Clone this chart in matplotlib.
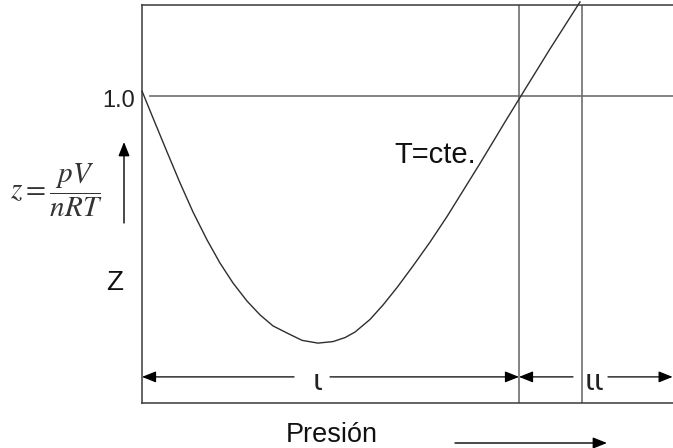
import matplotlib
matplotlib.use("Agg")
import matplotlib.pyplot as plt
from matplotlib.patches import FancyArrowPatch

plt.rcParams['font.family'] = ['Liberation Sans', 'DejaVu Sans']
plt.rcParams['mathtext.fontset'] = 'stix'

# Isotherm z = pV/nRT vs pressure (arbitrary units)
presion = [0.000, 0.117, 0.265, 0.403, 0.541, 0.690, 0.827, 0.965, 1.114, 1.252,
           1.390, 1.538, 1.698, 1.867, 2.027, 2.154, 2.260, 2.419, 2.557, 2.706,
           2.875, 3.056, 3.236, 3.406, 3.576, 3.714, 3.851, 4.021, 4.329, 4.647]
z_vals = [1.016, 0.928, 0.818, 0.717, 0.622, 0.531, 0.456, 0.391, 0.332, 0.287,
          0.251, 0.228, 0.204, 0.195, 0.200, 0.213, 0.231, 0.272, 0.319, 0.376,
          0.446, 0.524, 0.607, 0.691, 0.775, 0.845, 0.915, 1.000, 1.153, 1.306]

z_ref = 1.0
region_bounds = [0.0, 4.0, 4.668]
region_labels = ["ι", "ιι"]
x_max = 5.634
y_max = 1.296

W, H = 673, 448


def fx(px):
    return px / W


def fy(py):
    return 1 - py / H


fig = plt.figure(figsize=(W / 100, H / 100), dpi=100)
ax = fig.add_axes([fx(142), fy(403), (W - 142) / W, (403 - 5) / H])
ax.set_xlim(0, x_max)
ax.set_ylim(0, y_max)
ax.set_xticks([])
ax.set_yticks([])
for side in ['left', 'top', 'bottom']:
    ax.spines[side].set_color('#3a3a3a')
    ax.spines[side].set_linewidth(1.1)
ax.spines['right'].set_visible(False)

# reference line z = 1 and region boundaries
ax.plot([0.085, x_max], [z_ref, z_ref], color='#7a7a7a', lw=1.3, zorder=1)
for xb in region_bounds[1:]:
    ax.axvline(xb, color='#6e6e6e', lw=1.2, zorder=1)

# isotherm
ax.plot(presion, z_vals, color='#2e2e2e', lw=1.0, clip_on=False, zorder=3,
        solid_joinstyle='round')

ax.text(3.549, 0.808, "T=cte.", fontsize=21, ha='right', va='center', color='#111111')

# region arrows
ya = 0.085
astyle = dict(arrowstyle='-|>,head_length=8.5,head_width=3.4', mutation_scale=1,
              color='black', lw=0.9, shrinkA=0, shrinkB=0)
ax.annotate('', xy=(region_bounds[0], ya), xytext=(1.613, ya), arrowprops=astyle)
ax.annotate('', xy=(region_bounds[1], ya), xytext=(1.995, ya), arrowprops=astyle)
ax.annotate('', xy=(region_bounds[1], ya), xytext=(4.573, ya), arrowprops=astyle)
ax.annotate('', xy=(5.63, ya), xytext=(4.944, ya), arrowprops=astyle,
            annotation_clip=False)
ax.text(1.867, 0.042, region_labels[0], fontsize=21, ha='center', va='baseline',
        family='DejaVu Sans', color='#222222')
ax.text(4.796, 0.042, region_labels[1], fontsize=21, ha='center', va='baseline',
        family='DejaVu Sans', color='#222222')

# left annotations
fig.text(fx(135), fy(107), "1.0", fontsize=17, ha='right', va='baseline', color='#222222')
fig.text(fx(10), fy(190), r"$z=\dfrac{pV}{nRT}$", fontsize=21, ha='left', va='center',
         color='#333333')
fig.text(fx(115), fy(290), "Z", fontsize=20, ha='center', va='baseline', color='#111111')
fig.add_artist(FancyArrowPatch(
    (fx(124), fy(223)), (fx(124), fy(142)), transform=fig.transFigure,
    arrowstyle='-|>,head_length=8.5,head_width=3.4', mutation_scale=1,
    color='black', lw=1.0, shrinkA=0, shrinkB=0))

# bottom annotation
fig.text(fx(332), fy(442), "Presión", fontsize=19.5, ha='center', va='baseline', color='#111111')
fig.add_artist(FancyArrowPatch(
    (fx(455), fy(443)), (fx(607), fy(443)), transform=fig.transFigure,
    arrowstyle='-|>,head_length=8.5,head_width=3.4', mutation_scale=1,
    color='black', lw=1.0, shrinkA=0, shrinkB=0))

fig.savefig("out.png", dpi=100)
